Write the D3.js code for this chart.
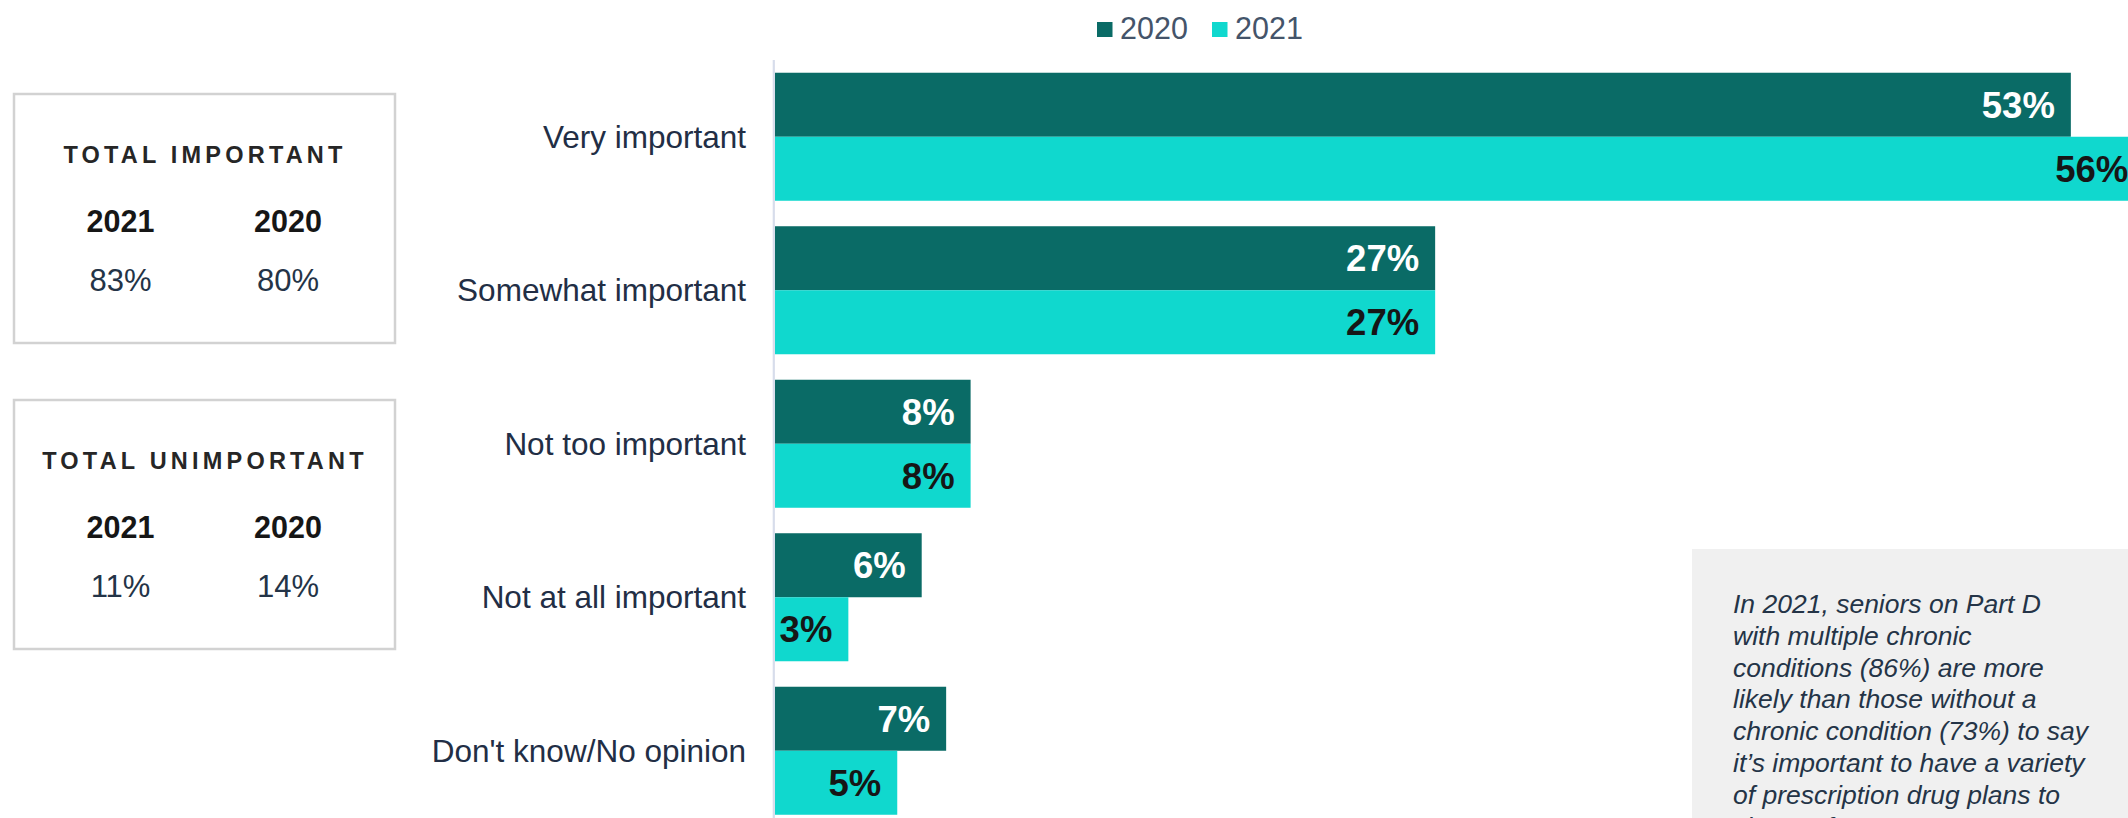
<!DOCTYPE html>
<html>
<head>
<meta charset="utf-8">
<script src="https://cdn.jsdelivr.net/npm/d3@7"></script>
<style>
  html, body { margin: 0; padding: 0; background: #ffffff; overflow: hidden; }
  svg { display: block; font-family: "Liberation Sans", Arial, sans-serif; }
</style>
</head>
<body>
<svg id="chart" width="2128" height="818"></svg>
<script>
const categories = ["Very important", "Somewhat important", "Not too important", "Not at all important", "Don't know/No opinion"];
const seriesNames = ["2020", "2021"];
const values2020 = [53, 27, 8, 6, 7];
const values2021 = [56, 27, 8, 3, 5];
const seriesColors = ["#0A6B66", "#10D8CE"];
const labelColors = ["#ffffff", "#161616"];

const boxTitles = ["TOTAL IMPORTANT", "TOTAL UNIMPORTANT"];
const boxYears = ["2021", "2020"];
const boxValues2021 = [83, 11];
const boxValues2020 = [80, 14];

const noteLines = [
  "In 2021, seniors on Part D",
  "with multiple chronic",
  "conditions (86%) are more",
  "likely than those without a",
  "chronic condition (73%) to say",
  "it\u2019s important to have a variety",
  "of prescription drug plans to",
  "choose from."
];

const svg = d3.select("#chart");

// scales
const x = d3.scaleLinear().domain([0, 60]).range([775, 775 + 60 * 24.45]);
const y0 = d3.scaleBand().domain(categories).range([60, 827.5]).paddingInner(0.166).paddingOuter(0.083);
const y1 = d3.scaleBand().domain(seriesNames).range([0, y0.bandwidth()]).padding(0);

const rows = categories.map((c, i) => ({ cat: c, vals: [values2020[i], values2021[i]] }));

// axis line
svg.append("line")
  .attr("x1", x(0) - 1.2).attr("x2", x(0) - 1.2)
  .attr("y1", 60).attr("y2", 818)
  .attr("stroke", "#D7DDEB").attr("stroke-width", 2.2);

const g = svg.selectAll("g.row").data(rows).join("g")
  .attr("class", "row")
  .attr("transform", d => `translate(0,${y0(d.cat)})`);

g.selectAll("rect").data(d => d.vals.map((v, k) => ({ s: seriesNames[k], v, k }))).join("rect")
  .attr("x", x(0))
  .attr("y", d => y1(d.s))
  .attr("width", d => x(d.v) - x(0))
  .attr("height", y1.bandwidth())
  .attr("fill", d => seriesColors[d.k]);

g.selectAll("text.val").data(d => d.vals.map((v, k) => ({ s: seriesNames[k], v, k }))).join("text")
  .attr("class", "val")
  .attr("x", d => x(d.v) - 16)
  .attr("y", d => y1(d.s) + y1.bandwidth() / 2)
  .attr("dy", "0.36em")
  .attr("text-anchor", "end")
  .attr("font-size", 36.5)
  .attr("font-weight", "bold")
  .attr("fill", d => labelColors[d.k])
  .text(d => d.v + "%");

// category labels
const yAxis = d3.axisLeft(y0).tickSize(0).tickPadding(0);
const ax = svg.append("g").attr("transform", "translate(746,0)").call(yAxis);
ax.select(".domain").remove();
ax.selectAll("text")
  .attr("font-size", 31.5)
  .attr("font-family", "'Liberation Sans', Arial, sans-serif")
  .attr("fill", "#222E45")
  .attr("dy", "0.35em");

// legend
const legendX = [1097, 1212];
const lg = svg.selectAll("g.leg").data(seriesNames).join("g")
  .attr("class", "leg")
  .attr("transform", (d, i) => `translate(${legendX[i]},0)`);
lg.append("rect").attr("x", 0).attr("y", 22).attr("width", 15.5).attr("height", 15).attr("fill", (d, i) => seriesColors[i]);
lg.append("text").attr("x", 23).attr("y", 39).attr("font-size", 30.5).attr("fill", "#44546A").text(d => d);

// summary boxes
const boxTop = [94, 400];
const colX = [120.5, 288];
boxTitles.forEach((t, i) => {
  const bg = svg.append("g").attr("transform", `translate(0,${boxTop[i]})`);
  bg.append("rect").attr("x", 14).attr("y", 0).attr("width", 381).attr("height", 249)
    .attr("fill", "none").attr("stroke", "#D2D2D2").attr("stroke-width", 2.5);
  bg.append("text").attr("x", 205).attr("y", 69).attr("text-anchor", "middle")
    .attr("font-size", 23.5).attr("font-weight", "bold").attr("letter-spacing", 4.2)
    .attr("fill", "#262626").text(t);
  boxYears.forEach((yr, k) => {
    bg.append("text").attr("x", colX[k]).attr("y", 138).attr("text-anchor", "middle")
      .attr("font-size", 30.5).attr("font-weight", "bold").attr("fill", "#161616").text(yr);
  });
  const vals = [boxValues2021[i], boxValues2020[i]];
  vals.forEach((v, k) => {
    bg.append("text").attr("x", colX[k]).attr("y", 197).attr("text-anchor", "middle")
      .attr("font-size", 31).attr("fill", "#243447").text(v + "%");
  });
});

// note box
svg.append("rect").attr("x", 1692).attr("y", 549).attr("width", 436).attr("height", 269).attr("fill", "#F0F0F0");
svg.append("g").selectAll("text").data(noteLines).join("text")
  .attr("x", 1733)
  .attr("y", (d, i) => 612.7 + i * 31.9)
  .attr("font-size", 26.5)
  .attr("font-style", "italic")
  .attr("fill", "#243447")
  .text(d => d);
</script>
</body>
</html>
